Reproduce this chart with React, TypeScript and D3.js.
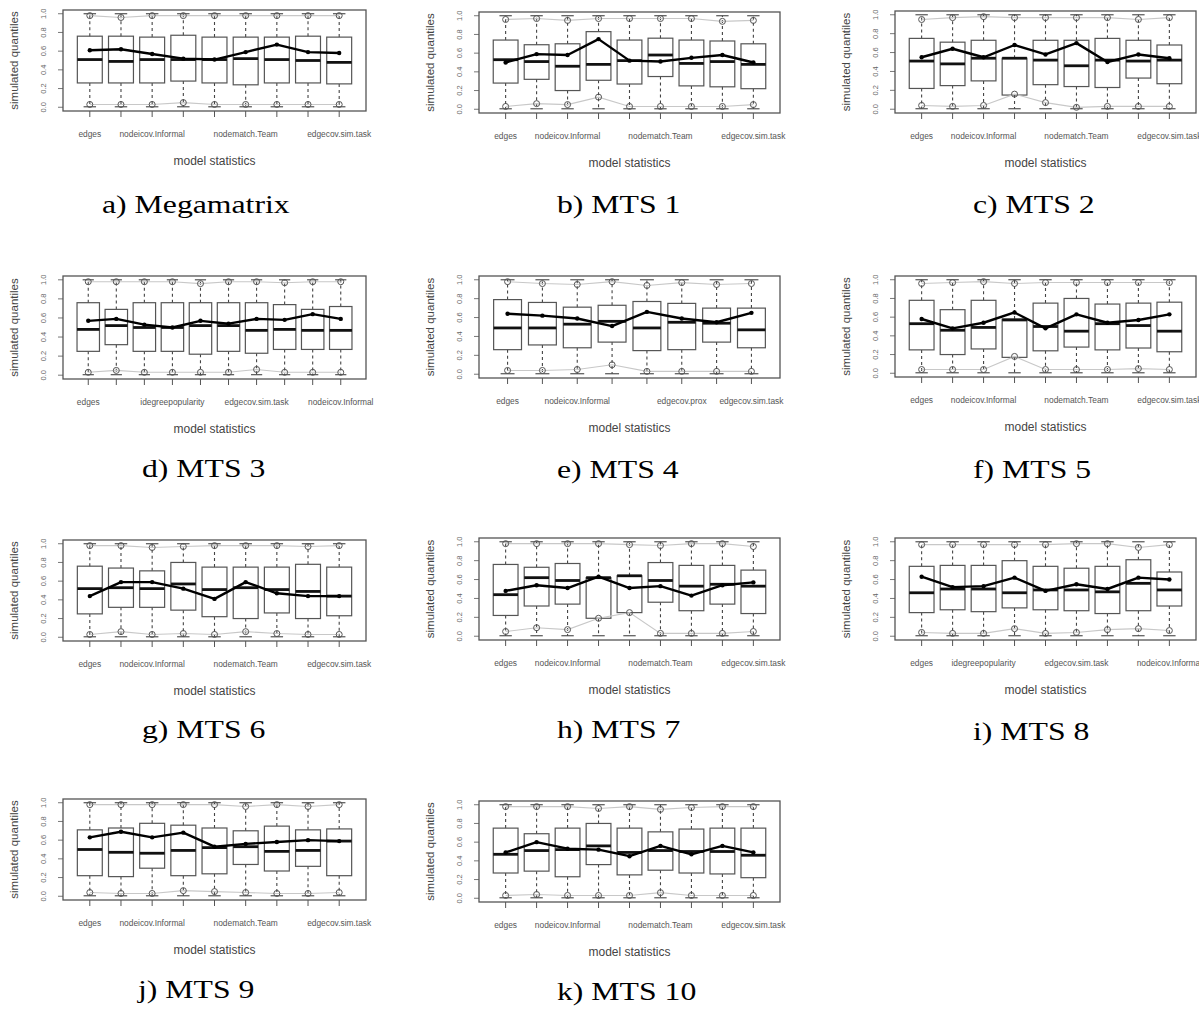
import React from "react";
import * as d3 from "d3";

// ---------- data ----------
const PANEL_TITLES = [
  "a) Megamatrix", "b) MTS 1", "c) MTS 2", "d) MTS 3", "e) MTS 4", "f) MTS 5",
  "g) MTS 6", "h) MTS 7", "i) MTS 8", "j) MTS 9", "k) MTS 10",
];

const LBL9 = ["edges", "", "nodeicov.Informal", "", "", "nodematch.Team", "", "", "edgecov.sim.task"];
const LBL_D = ["edges", "", "", "idegreepopularity", "", "", "edgecov.sim.task", "", "", "nodeicov.Informal"];
const LBL_E = ["edges", "", "nodeicov.Informal", "", "", "edgecov.prox", "", "edgecov.sim.task"];
const LBL_I = ["edges", "", "idegreepopularity", "", "", "edgecov.sim.task", "", "", "nodeicov.Informal"];
const TICK_LABELS = [LBL9, LBL9, LBL9, LBL_D, LBL_E, LBL9, LBL9, LBL9, LBL_I, LBL9, LBL9];

const Y_TICKS = [0, 0.2, 0.4, 0.6, 0.8, 1.0];
const WHISKER_MIN = 0.005;
const WHISKER_MAX = 1.0;

const Q3 = [
  [0.76, 0.76, 0.75, 0.77, 0.75, 0.75, 0.75, 0.76, 0.75],
  [0.74, 0.69, 0.70, 0.83, 0.74, 0.76, 0.74, 0.73, 0.70],
  [0.75, 0.71, 0.73, 0.54, 0.73, 0.73, 0.75, 0.73, 0.68],
  [0.76, 0.69, 0.76, 0.76, 0.76, 0.76, 0.76, 0.74, 0.69, 0.72],
  [0.79, 0.76, 0.71, 0.73, 0.77, 0.75, 0.70, 0.70],
  [0.78, 0.68, 0.78, 0.58, 0.75, 0.80, 0.74, 0.75, 0.76],
  [0.76, 0.74, 0.71, 0.80, 0.75, 0.75, 0.75, 0.78, 0.75],
  [0.76, 0.73, 0.77, 0.62, 0.64, 0.78, 0.75, 0.75, 0.70],
  [0.74, 0.75, 0.75, 0.80, 0.74, 0.72, 0.74, 0.81, 0.68],
  [0.71, 0.73, 0.78, 0.76, 0.73, 0.70, 0.75, 0.71, 0.72],
  [0.75, 0.69, 0.75, 0.80, 0.75, 0.71, 0.74, 0.75, 0.75],
];

const Q1 = [
  [0.26, 0.26, 0.26, 0.28, 0.26, 0.24, 0.26, 0.26, 0.25],
  [0.28, 0.32, 0.20, 0.31, 0.27, 0.35, 0.25, 0.24, 0.22],
  [0.22, 0.25, 0.30, 0.15, 0.26, 0.24, 0.23, 0.33, 0.27],
  [0.25, 0.32, 0.25, 0.25, 0.22, 0.25, 0.23, 0.27, 0.27, 0.27],
  [0.26, 0.31, 0.28, 0.34, 0.25, 0.26, 0.34, 0.28],
  [0.25, 0.20, 0.26, 0.17, 0.24, 0.28, 0.25, 0.27, 0.23],
  [0.25, 0.32, 0.32, 0.29, 0.22, 0.20, 0.26, 0.20, 0.23],
  [0.22, 0.32, 0.34, 0.19, 0.25, 0.36, 0.27, 0.34, 0.24],
  [0.25, 0.28, 0.26, 0.30, 0.28, 0.27, 0.24, 0.27, 0.32],
  [0.22, 0.21, 0.30, 0.22, 0.24, 0.34, 0.27, 0.32, 0.22],
  [0.27, 0.29, 0.23, 0.36, 0.25, 0.30, 0.27, 0.26, 0.22],
];

const MEDIAN = [
  [0.51, 0.49, 0.51, 0.51, 0.51, 0.52, 0.51, 0.50, 0.48],
  [0.53, 0.51, 0.46, 0.48, 0.52, 0.58, 0.49, 0.51, 0.48],
  [0.51, 0.48, 0.54, 0.54, 0.52, 0.46, 0.52, 0.51, 0.52],
  [0.48, 0.52, 0.50, 0.50, 0.52, 0.52, 0.47, 0.48, 0.47, 0.47],
  [0.49, 0.49, 0.53, 0.56, 0.49, 0.55, 0.54, 0.47],
  [0.53, 0.46, 0.49, 0.57, 0.50, 0.45, 0.53, 0.51, 0.45],
  [0.52, 0.53, 0.52, 0.57, 0.51, 0.53, 0.51, 0.49, 0.44],
  [0.44, 0.62, 0.59, 0.62, 0.64, 0.59, 0.53, 0.55, 0.53],
  [0.46, 0.50, 0.50, 0.46, 0.49, 0.49, 0.47, 0.56, 0.49],
  [0.50, 0.47, 0.46, 0.49, 0.52, 0.53, 0.48, 0.49, 0.59],
  [0.47, 0.51, 0.52, 0.56, 0.49, 0.51, 0.50, 0.50, 0.46],
];

const OBSERVED = [
  [0.61, 0.62, 0.57, 0.52, 0.51, 0.59, 0.67, 0.59, 0.58],
  [0.50, 0.59, 0.58, 0.75, 0.52, 0.51, 0.55, 0.58, 0.50],
  [0.55, 0.64, 0.55, 0.68, 0.58, 0.70, 0.50, 0.58, 0.54],
  [0.57, 0.59, 0.53, 0.50, 0.57, 0.54, 0.59, 0.58, 0.64, 0.59],
  [0.64, 0.62, 0.59, 0.51, 0.66, 0.59, 0.55, 0.65],
  [0.58, 0.48, 0.54, 0.65, 0.48, 0.63, 0.54, 0.57, 0.63],
  [0.44, 0.59, 0.59, 0.52, 0.41, 0.59, 0.47, 0.44, 0.44],
  [0.48, 0.54, 0.51, 0.63, 0.51, 0.53, 0.43, 0.54, 0.57],
  [0.63, 0.52, 0.53, 0.62, 0.48, 0.55, 0.50, 0.62, 0.60],
  [0.63, 0.69, 0.63, 0.68, 0.53, 0.56, 0.58, 0.60, 0.59],
  [0.49, 0.60, 0.53, 0.52, 0.45, 0.56, 0.47, 0.56, 0.49],
];

const LOWER_CI = [
  [0.03, 0.03, 0.03, 0.05, 0.03, 0.03, 0.03, 0.03, 0.03],
  [0.03, 0.06, 0.05, 0.13, 0.03, 0.03, 0.03, 0.03, 0.05],
  [0.04, 0.03, 0.04, 0.16, 0.07, 0.02, 0.03, 0.03, 0.03],
  [0.03, 0.05, 0.03, 0.03, 0.03, 0.03, 0.06, 0.03, 0.03, 0.03],
  [0.04, 0.04, 0.05, 0.10, 0.03, 0.03, 0.03, 0.03],
  [0.04, 0.04, 0.04, 0.18, 0.04, 0.04, 0.04, 0.05, 0.04],
  [0.03, 0.06, 0.03, 0.04, 0.03, 0.06, 0.04, 0.03, 0.03],
  [0.05, 0.09, 0.07, 0.19, 0.25, 0.03, 0.03, 0.03, 0.05],
  [0.04, 0.03, 0.03, 0.08, 0.03, 0.04, 0.07, 0.08, 0.06],
  [0.04, 0.03, 0.03, 0.06, 0.05, 0.04, 0.03, 0.03, 0.04],
  [0.03, 0.04, 0.03, 0.03, 0.03, 0.06, 0.03, 0.03, 0.03],
];

const UPPER_CI = [
  [0.98, 0.96, 0.98, 0.98, 0.98, 0.98, 0.98, 0.98, 0.98],
  [0.96, 0.97, 0.95, 0.97, 0.97, 0.97, 0.97, 0.94, 0.95],
  [0.95, 0.97, 0.98, 0.97, 0.97, 0.97, 0.97, 0.95, 0.97],
  [0.98, 0.98, 0.98, 0.98, 0.96, 0.98, 0.98, 0.97, 0.98, 0.98],
  [0.98, 0.96, 0.95, 0.98, 0.94, 0.97, 0.95, 0.96],
  [0.96, 0.97, 0.98, 0.96, 0.97, 0.97, 0.97, 0.97, 0.97],
  [0.98, 0.98, 0.96, 0.97, 0.98, 0.98, 0.98, 0.97, 0.98],
  [0.98, 0.98, 0.98, 0.98, 0.97, 0.96, 0.98, 0.98, 0.95],
  [0.97, 0.97, 0.97, 0.97, 0.97, 0.98, 0.98, 0.94, 0.97],
  [0.98, 0.98, 0.98, 0.98, 0.98, 0.96, 0.98, 0.96, 0.98],
  [0.98, 0.98, 0.98, 0.96, 0.98, 0.95, 0.97, 0.98, 0.98],
];

// ---------- layout ----------
// plot frame [left, top, right, bottom]
const FRAMES = [
  [63, 10, 366, 111], [479, 12, 780, 113], [895, 11, 1196, 113],
  [63, 276, 366, 379], [479, 276, 780, 378], [895, 276, 1196, 377],
  [63, 540, 366, 641], [479, 538, 780, 640], [895, 538, 1196, 640],
  [63, 799, 366, 900], [479, 801, 780, 902],
];
// caption start [x, baseline]
const CAPTION_POS = [
  [102, 213], [557, 213], [973, 213],
  [142, 477], [557, 478], [973, 478],
  [142, 738], [557, 738], [973, 740],
  [138, 998], [557, 1000],
];

const SANS = "Liberation Sans, Arial, Helvetica, sans-serif";
const SERIF = "Liberation Serif, Times New Roman, serif";

function Panel({ idx }: { idx: number }) {
  const [l, t, r, b] = FRAMES[idx];
  const n = Q3[idx].length;
  const pad = 0.04 * n;
  const x = d3.scaleLinear().domain([0.5 - pad, n + 0.5 + pad]).range([l, r]);
  const y = d3.scaleLinear().domain([-0.04, 1.04]).range([b, t]);
  const idxs = d3.range(n);
  const unit = x(2) - x(1);
  const bw = unit * 0.8;
  const cw = bw * 0.5;
  const line = d3
    .line<number>()
    .x((i) => x(i + 1))
    .y((v) => 0)
    .curve(d3.curveLinear);
  const mk = (arr: number[]) =>
    d3
      .line<number>()
      .x((_, i) => x(i + 1))
      .y((v) => y(v))(arr) as string;
  const labels = TICK_LABELS[idx];
  const [cx, cy] = CAPTION_POS[idx];
  return (
    <g>
      {/* y axis title */}
      <text
        transform={`translate(${l - 45},${(t + b) / 2}) rotate(-90)`}
        textAnchor="middle"
        fontFamily={SANS}
        fontSize={11.5}
        fill="#444"
      >
        simulated quantiles
      </text>
      {/* y ticks */}
      {Y_TICKS.map((v) => (
        <g key={v}>
          <line x1={l - 5} x2={l} y1={y(v)} y2={y(v)} stroke="#777" strokeWidth={1} />
          <text
            transform={`translate(${l - 17},${y(v)}) rotate(-90)`}
            textAnchor="middle"
            fontFamily={SANS}
            fontSize={7.5}
            fill="#666"
          >
            {v.toFixed(1)}
          </text>
        </g>
      ))}
      {/* x ticks and labels */}
      {idxs.map((i) => (
        <g key={i}>
          <line x1={x(i + 1)} x2={x(i + 1)} y1={b} y2={b + 6} stroke="#555" strokeWidth={1} />
          {labels[i] ? (
            <text
              x={x(i + 1)}
              y={b + 26}
              textAnchor="middle"
              fontFamily={SANS}
              fontSize={8.4}
              fill="#555"
            >
              {labels[i]}
            </text>
          ) : null}
        </g>
      ))}
      <text
        x={(l + r) / 2}
        y={b + 54}
        textAnchor="middle"
        fontFamily={SANS}
        fontSize={12}
        fill="#444"
      >
        model statistics
      </text>
      {/* boxes */}
      {idxs.map((i) => {
        const xc = x(i + 1);
        const q1 = Q1[idx][i];
        const q3 = Q3[idx][i];
        const md = MEDIAN[idx][i];
        return (
          <g key={"b" + i}>
            <line x1={xc} x2={xc} y1={y(q3)} y2={y(WHISKER_MAX)} stroke="#444" strokeDasharray="3,3" strokeWidth={1.1} />
            <line x1={xc} x2={xc} y1={y(q1)} y2={y(WHISKER_MIN)} stroke="#444" strokeDasharray="3,3" strokeWidth={1.1} />
            <line x1={xc - cw / 2} x2={xc + cw / 2} y1={y(WHISKER_MAX)} y2={y(WHISKER_MAX)} stroke="#444" strokeWidth={1.1} />
            <line x1={xc - cw / 2} x2={xc + cw / 2} y1={y(WHISKER_MIN)} y2={y(WHISKER_MIN)} stroke="#444" strokeWidth={1.1} />
            <rect
              x={xc - bw / 2}
              y={y(q3)}
              width={bw}
              height={y(q1) - y(q3)}
              fill="none"
              stroke="#555"
              strokeWidth={1.2}
            />
            <line x1={xc - bw / 2} x2={xc + bw / 2} y1={y(md)} y2={y(md)} stroke="#111" strokeWidth={2.8} />
          </g>
        );
      })}
      {/* CI gray lines */}
      <path d={mk(LOWER_CI[idx])} fill="none" stroke="#c8c8c8" strokeWidth={1.1} />
      <path d={mk(UPPER_CI[idx])} fill="none" stroke="#c8c8c8" strokeWidth={1.1} />
      {idxs.map((i) => (
        <g key={"c" + i}>
          <circle cx={x(i + 1)} cy={y(LOWER_CI[idx][i])} r={3} fill="none" stroke="#555" strokeWidth={1} />
          <circle cx={x(i + 1)} cy={y(UPPER_CI[idx][i])} r={3} fill="none" stroke="#555" strokeWidth={1} />
        </g>
      ))}
      {/* observed */}
      <path d={mk(OBSERVED[idx])} fill="none" stroke="#000" strokeWidth={2.4} strokeLinejoin="round" />
      {idxs.map((i) => (
        <circle key={"o" + i} cx={x(i + 1)} cy={y(OBSERVED[idx][i])} r={2.2} fill="#000" />
      ))}
      {/* frame */}
      <rect x={l} y={t} width={r - l} height={b - t} fill="none" stroke="#555" strokeWidth={1.3} />
      {/* caption */}
      <text
        transform={`translate(${cx},${cy}) scale(1.27,1)`}
        fontFamily={SERIF}
        fontSize={25}
        fill="#000"
      >
        {PANEL_TITLES[idx]}
      </text>
    </g>
  );
}

export default function App() {
  return (
    <svg
      width={1199}
      height={1009}
      style={{ position: "absolute", left: 0, top: 0, background: "#fff" }}
    >
      <rect width={1199} height={1009} fill="#fff" />
      {PANEL_TITLES.map((_, i) => (
        <Panel key={i} idx={i} />
      ))}
    </svg>
  );
}
